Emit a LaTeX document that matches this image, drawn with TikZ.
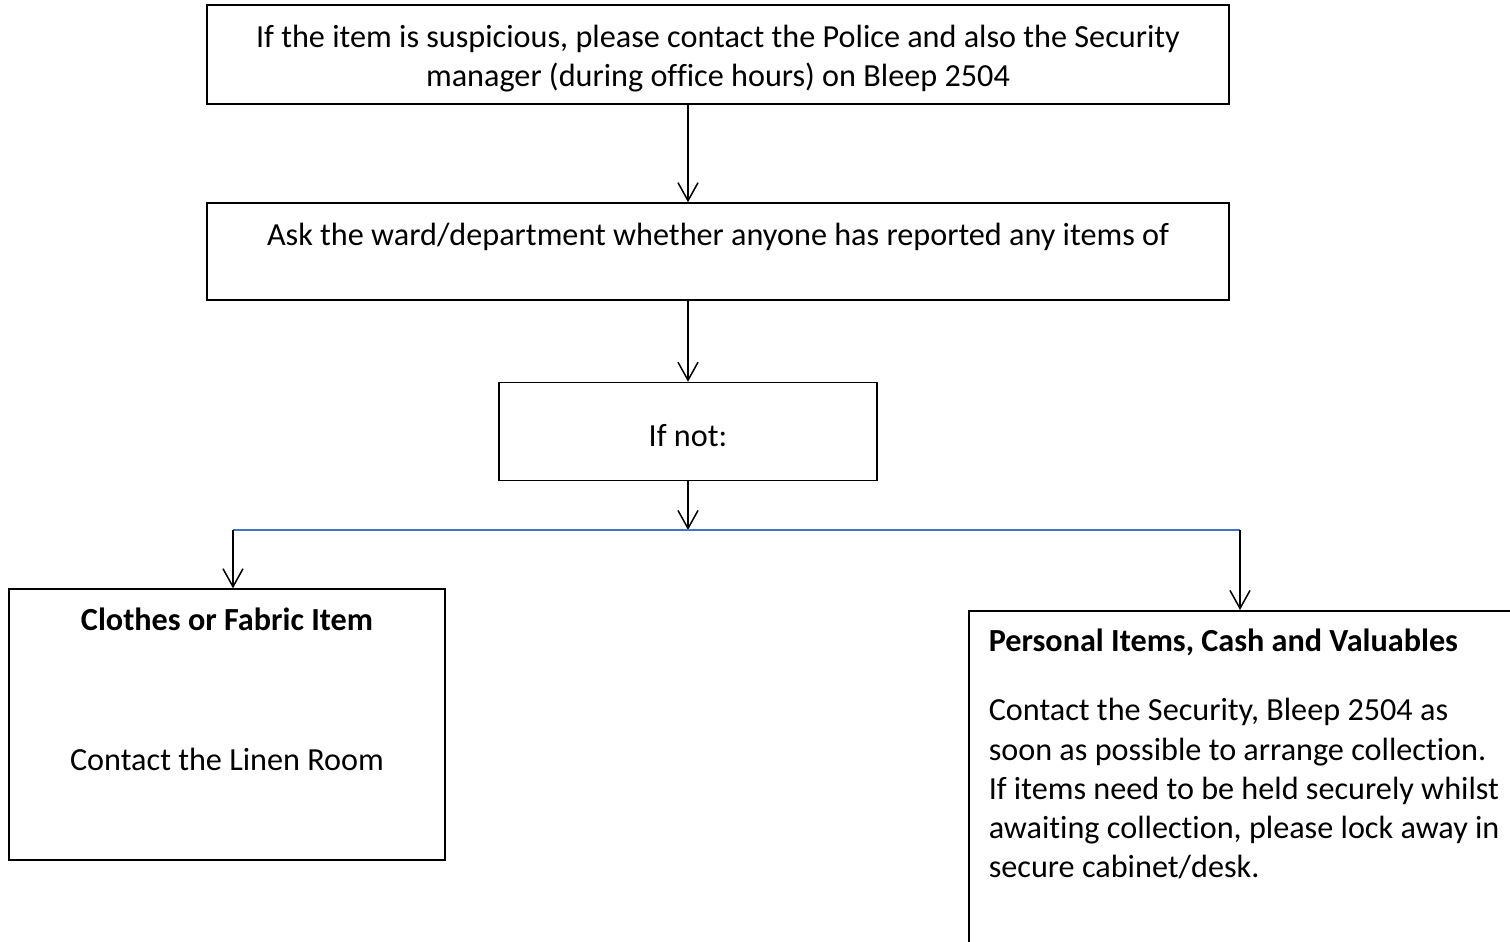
\documentclass[tikz,border=0pt]{standalone}
\usepackage{fontspec}
\setmainfont{Carlito}[Ligatures=NoCommon]
\usetikzlibrary{arrows.meta}
\definecolor{lineblue}{RGB}{68,114,196}

\begin{document}
\begin{tikzpicture}[x=0.5pt, y=-0.5pt, line width=0.75pt,
    main/.style={draw, rectangle, inner sep=0pt, font=\fontsize{16.1}{19.65}\selectfont},
    arr/.style={-{Straight Barb[length=9pt, width=10pt]}}]
    \useasboundingbox (0,0) rectangle (1510,942);
    \clip (0,0) rectangle (1510,942);

    \node[main] (1) at (718,54.5) {\parbox[c][49.5pt][t]{511pt}{\centering\rule{0pt}{21.25pt}If the item is suspicious, please contact the Police and also the Security\\manager (during office hours) on Bleep 2504}};
    \node[main] (2) at (718,251.5) {\parbox[c][48.5pt][t]{511pt}{\centering\rule{0pt}{21pt}Ask the ward/department whether anyone has reported any items of}};
    \node[main] (3) at (688,431.5) {\parbox[c][49pt][t]{189pt}{\centering\rule{0pt}{32pt}If not:}};
    \node[main] (4) at (227,724.5) {\parbox[c][135.5pt][t]{218pt}{\centering\rule{0pt}{20.85pt}\textbf{Clothes or Fabric Item}\\[50.35pt]Contact the Linen Room}};
    \node[main, anchor=north west, inner xsep=10pt] (5) at (968,610) {\parbox[c][200pt][t]{300pt}{\raggedright\rule{0pt}{20.5pt}\textbf{Personal Items, Cash and Valuables}\\[14.85pt]Contact the Security, Bleep 2504 as\\soon as possible to arrange collection.\\If items need to be held securely whilst\\awaiting collection, please lock away in\\secure cabinet/desk.}};

    \coordinate (6) at (688,530);
    \coordinate (7) at (233,530);
    \coordinate (8) at (1240,530);

    \draw[arr] (1.south -| 3.north) -- (2.north -| 3.north);
    \draw[arr] (2.south -| 3.north) -- (3.north);
    \draw[arr] (3.south) -- (6);
    \draw[lineblue] (7) -- (8);
    \draw[arr] (7) -- (7 |- 4.north);
    \draw[arr] (8) -- (8 |- 5.north);
\end{tikzpicture}
\end{document}
